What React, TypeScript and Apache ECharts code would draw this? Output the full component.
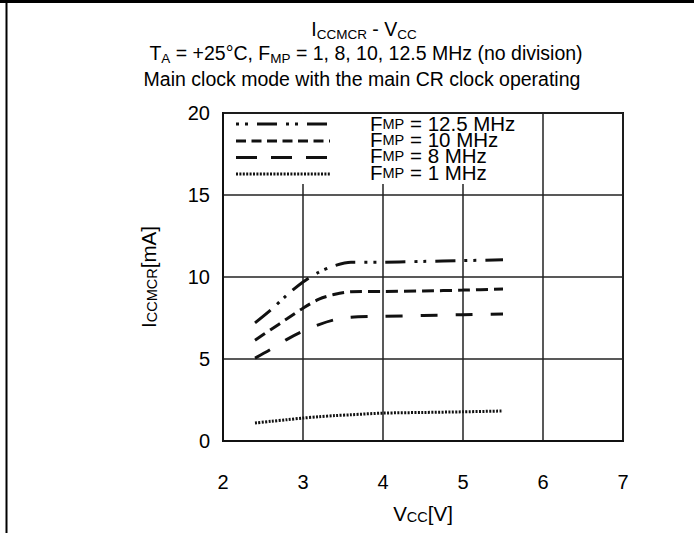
import React, { useEffect, useRef } from "react";
import * as echarts from "echarts";

// Supply voltage (V) at which the curves were sampled
const vcc = [2.4, 2.6, 2.8, 3.0, 3.2, 3.4, 3.6, 4.0, 4.5, 5.0, 5.5];
// Current (mA) per main clock frequency
const icc125 = [7.2, 8.0, 8.9, 9.7, 10.3, 10.7, 10.9, 10.9, 10.95, 11.0, 11.05];
const icc10 = [6.15, 6.8, 7.45, 8.1, 8.65, 8.95, 9.1, 9.12, 9.15, 9.2, 9.27];
const icc8 = [5.05, 5.6, 6.2, 6.7, 7.1, 7.4, 7.55, 7.6, 7.65, 7.7, 7.75];
const icc1 = [1.1, 1.2, 1.3, 1.4, 1.48, 1.55, 1.6, 1.7, 1.74, 1.78, 1.83];

const legendLabels = ["12.5 MHz", "10 MHz", "8 MHz", "1 MHz"];
const xMin = 2, xMax = 7, xStep = 1;
const yMin = 0, yMax = 20, yStep = 5;

const FONT = "'Liberation Sans', Arial, Helvetica, sans-serif";

const dash125 = [20, 9, 3, 6, 3, 9];
const dash10 = [12, 6];
const dash8 = [17, 18];
const dash1 = [2, 1.4];

export default function App() {
  const ref = useRef<HTMLDivElement>(null);
  useEffect(() => {
    const chart = echarts.init(ref.current!, null, { renderer: "svg" });
    const big = 19.5;
    const small = 13.5;
    const richTitle = {
      a: { fontSize: big, fontFamily: FONT, color: "#000", lineHeight: 24 },
      s: { fontSize: small, fontFamily: FONT, color: "#000", lineHeight: 12, verticalAlign: "bottom" },
    };
    const richAxis = {
      a: { fontSize: 20.5, fontFamily: FONT, color: "#000", lineHeight: 22 },
      b: { fontSize: 14.5, fontFamily: FONT, color: "#000", lineHeight: 20, verticalAlign: "bottom" },
    };
    const richLegend = {
      a: { fontSize: 20.5, fontFamily: FONT, color: "#000", lineHeight: 16 },
      b: { fontSize: 14.5, fontFamily: FONT, color: "#000", lineHeight: 14, verticalAlign: "bottom" },
    };
    const mk = (ys: number[]) => vcc.map((v, i) => [v, ys[i]]);
    const seriesDefs = [
      { ys: icc125, dash: dash125, legDash: dash125, legOff: 29 },
      { ys: icc10, dash: dash10, legDash: [10, 5.5], legOff: 0 },
      { ys: icc8, dash: dash8, legDash: [21, 14], legOff: 0 },
      { ys: icc1, dash: dash1, legDash: dash1, legOff: 0 },
    ];
    const legendRows = [124, 141, 157.5, 174];
    const legendTextRows = [123, 139.5, 155.5, 172];
    const legendGraphics: any[] = [];
    seriesDefs.forEach((s, i) => {
      legendGraphics.push({
        type: "line",
        z: 20,
        shape: { x1: 236, y1: legendRows[i], x2: 330, y2: legendRows[i] },
        style: { stroke: "#111", lineWidth: 3, lineDash: s.legDash, lineDashOffset: s.legOff },
      });
      legendGraphics.push({
        type: "text",
        z: 20,
        x: 370,
        y: legendTextRows[i],
        style: {
          text: `{a|F}{b|MP}{a| = ${legendLabels[i]}}`,
          rich: richLegend,
          verticalAlign: "middle",
          align: "left",
        },
      });
    });

    const option: any = {
      animation: false,
      backgroundColor: "#fff",
      grid: {
        left: 223,
        top: 113,
        width: 400,
        height: 328,
        show: true,
        borderColor: "#111",
        borderWidth: 2,
        containLabel: false,
      },
      xAxis: {
        type: "value",
        min: xMin,
        max: xMax,
        interval: xStep,
        name: "{a|V}{b|CC}{a|[V]}",
        nameLocation: "middle",
        nameGap: 61,
        nameTextStyle: { rich: richAxis },
        axisLine: { show: true, lineStyle: { color: "#111", width: 2 } },
        axisTick: { show: false },
        axisLabel: { margin: 31, fontSize: 20, fontFamily: FONT, color: "#000" },
        splitLine: { show: true, lineStyle: { color: "#222", width: 1.5 } },
      },
      yAxis: {
        type: "value",
        min: yMin,
        max: yMax,
        interval: yStep,
        name: "{a|I}{b|CCMCR}{a|[mA]}",
        nameLocation: "middle",
        nameRotate: 90,
        nameGap: 64,
        nameTextStyle: { rich: richAxis },
        axisLine: { show: true, lineStyle: { color: "#111", width: 2 } },
        axisTick: { show: false },
        axisLabel: { margin: 13, fontSize: 20, fontFamily: FONT, color: "#000" },
        splitLine: { show: true, lineStyle: { color: "#222", width: 1.5 } },
      },
      series: seriesDefs.map((s, i) => ({
        type: "line",
        name: legendLabels[i],
        data: mk(s.ys),
        symbol: "none",
        showSymbol: false,
        smooth: 0.3,
        z: 5,
        lineStyle: { color: "#111", width: 3, type: s.dash },
      })),
      graphic: [
        {
          type: "line",
          z: 30,
          shape: { x1: 0, y1: 1.5, x2: 694, y2: 1.5 },
          style: { stroke: "#000", lineWidth: 3 },
        },
        {
          type: "line",
          z: 30,
          shape: { x1: 6.5, y1: 0, x2: 6.5, y2: 533 },
          style: { stroke: "#000", lineWidth: 2 },
        },
        {
          type: "text",
          x: 364,
          y: 29,
          z: 20,
          style: {
            text: "{a|I}{s|CCMCR}{a| - V}{s|CC}",
            rich: richTitle,
            align: "center",
            verticalAlign: "middle",
          },
        },
        {
          type: "text",
          x: 366,
          y: 53,
          z: 20,
          style: {
            text: "{a|T}{s|A}{a| = +25°C, F}{s|MP}{a| = 1, 8, 10, 12.5 MHz (no division)}",
            rich: richTitle,
            align: "center",
            verticalAlign: "middle",
          },
        },
        {
          type: "text",
          x: 362,
          y: 79,
          z: 20,
          style: {
            text: "Main clock mode with the main CR clock operating",
            fontSize: big,
            fontFamily: FONT,
            fill: "#000",
            align: "center",
            verticalAlign: "middle",
          },
        },
        {
          type: "rect",
          z: 15,
          shape: { x: 224.5, y: 114, width: 317, height: 70 },
          style: { fill: "#fff" },
        },
        ...legendGraphics,
      ],
    };
    chart.setOption(option);
    return () => chart.dispose();
  }, []);
  return (
    <div
      ref={ref}
      style={{ position: "fixed", left: 0, top: 0, width: 694, height: 533, background: "#fff" }}
    />
  );
}
